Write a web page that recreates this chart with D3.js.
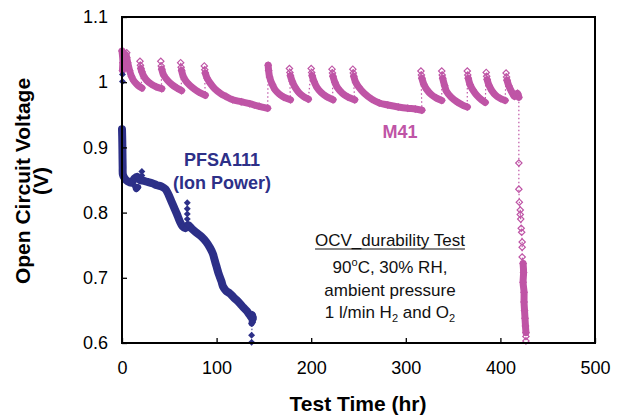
<!DOCTYPE html>
<html>
<head>
<meta charset="utf-8">
<script src="https://cdn.jsdelivr.net/npm/d3@7"></script>
<style>
  body { margin: 0; background: #fff; }
  text { font-family: "Liberation Sans", Arial, sans-serif; }
</style>
</head>
<body>
<svg id="chart" width="623" height="419"></svg>
<script>
// axis ticks
var xTicks = [0, 100, 200, 300, 400, 500];
var yTicks = [0.6, 0.7, 0.8, 0.9, 1.0, 1.1];

// M41: isolated markers at the top of each recovery cycle
var m41Tops = [
	[[1, 1.047], [5, 1.045], [5, 1.038]],
	[[19, 1.032], [19.5, 1.026]],
	[[41, 1.032], [41.5, 1.025]],
	[[62, 1.030], [62.5, 1.023]],
	[[87, 1.025], [87.5, 1.019]],
	[],
	[[177, 1.021], [177.5, 1.015]],
	[[200, 1.021], [200.5, 1.015]],
	[[222, 1.020], [222.5, 1.014]],
	[[244, 1.020], [244.5, 1.014]],
	[[316, 1.017], [316.5, 1.011]],
	[[338, 1.017], [338.5, 1.011]],
	[[365, 1.017], [365.5, 1.011]],
	[[385, 1.015], [385.5, 1.009]],
	[[406, 1.014], [406.5, 1.008]],
	[[419.5, 0.876], [419.5, 0.836], [420, 0.816], [421, 0.804], [421, 0.797], [421.5, 0.790],
	 [422, 0.776], [422.5, 0.770], [423, 0.755], [423, 0.747], [423, 0.732]]
];

// M41: dense runs of points (drawn as a thick band of markers)
var m41Runs = [
	[[0, 1.048], [1, 1.030], [0.5, 1.018], [2, 1.040], [4, 1.042], [6, 1.030], [8, 1.018], [10, 1.009], [13, 1.001], [17, 0.995], [21, 0.991]],
	[[20, 1.021], [21, 1.016], [23, 1.009], [26, 1.003], [31, 0.997], [36, 0.993], [42, 0.990]],
	[[42, 1.020], [44, 1.011], [48, 1.003], [53, 0.996], [58, 0.991], [63, 0.987]],
	[[63, 1.018], [65, 1.008], [69, 0.999], [75, 0.991], [81, 0.985], [88, 0.980]],
	[[88, 1.014], [90, 1.006], [93, 0.999], [98, 0.990], [104, 0.983], [110, 0.978], [117, 0.973], [126, 0.970], [135, 0.967], [145, 0.963], [154, 0.960]],
	[[154.5, 1.026], [155, 1.018], [156, 1.008], [159, 0.996], [162, 0.988], [166, 0.982], [171, 0.977], [178, 0.973]],
	[[178, 1.010], [180, 1.001], [183, 0.992], [187, 0.984], [192, 0.978], [197, 0.974]],
	[[201, 1.010], [203, 1.001], [206, 0.992], [210, 0.985], [216, 0.978], [223, 0.973]],
	[[223, 1.009], [225, 1.000], [228, 0.991], [233, 0.983], [239, 0.977], [246, 0.973]],
	[[245, 1.009], [247, 1.000], [250, 0.993], [256, 0.983], [264, 0.974], [272, 0.968], [281, 0.965], [292, 0.962], [302, 0.960], [310, 0.959], [317, 0.957]],
	[[317, 1.006], [319, 0.997], [322, 0.989], [327, 0.981], [332, 0.976], [338, 0.972]],
	[[339, 1.006], [341, 0.995], [343, 0.986], [348, 0.977], [354, 0.970], [360, 0.965], [365, 0.962]],
	[[366, 1.006], [368, 0.996], [371, 0.988], [375, 0.980], [380, 0.973], [384, 0.969]],
	[[386, 1.004], [388, 0.995], [391, 0.987], [395, 0.980], [400, 0.975], [405, 0.972]],
	[[407, 1.003], [409, 0.994], [412, 0.985], [415, 0.978], [418, 0.983], [419.5, 0.977]],
	[[424, 0.722], [424.5, 0.708], [424, 0.693], [425, 0.678], [425, 0.663], [425.5, 0.650], [426, 0.638], [426.5, 0.626], [427, 0.616]]
];
var m41Tail = [[427, 0.610], [427, 0.603]];

// PFSA111 (Ion Power): main run and isolated points
var pfsaRun = [
	[0, 0.928], [0.3, 0.910], [0.5, 0.890], [0.7, 0.870], [1, 0.858], [3, 0.852], [6, 0.848], [10, 0.846],
	[13, 0.852], [16, 0.855], [19, 0.850], [22, 0.849], [27, 0.847], [32, 0.845], [37, 0.842], [42, 0.840],
	[46, 0.836], [49, 0.828], [52, 0.818], [55, 0.808], [58, 0.798], [61, 0.787], [64, 0.779], [67, 0.776],
	[70, 0.781], [74, 0.775], [79, 0.769], [84, 0.763], [89, 0.755], [93, 0.746], [96, 0.737], [98, 0.727],
	[100, 0.717], [102, 0.707], [105, 0.695], [107, 0.686], [110, 0.680], [114, 0.676], [118, 0.670],
	[121, 0.666], [125, 0.660], [128, 0.655], [132, 0.649], [135, 0.643], [138, 0.637]
];
var pfsaBlobs = [
	[[14, 0.840], [15, 0.836], [16, 0.837], [17, 0.839]],
	[[137, 0.630], [138, 0.644], [139, 0.640], [138, 0.632]]
];
var pfsaSingles = [[0.5, 1.012], [0.5, 1.001], [21, 0.863], [21, 0.857], [69, 0.815], [69, 0.806], [69, 0.798], [69, 0.790], [137, 0.612], [137, 0.601]];

var m41Color = "#bf55a6";
var pfsaColor = "#2d3088";

var svg = d3.select("#chart");
var x = d3.scaleLinear().domain([0, 500]).range([122, 595]);
var y = d3.scaleLinear().domain([0.6, 1.1]).range([343, 17]);

var line = d3.line()
	.x(function(d) { return x(d[0]); })
	.y(function(d) { return y(d[1]); })
	.curve(d3.curveCatmullRom);
var lineLin = d3.line()
	.x(function(d) { return x(d[0]); })
	.y(function(d) { return y(d[1]); });

var plot = svg.append("g");

//M41 dotted trace through every point in order
var m41Trace = [];
for (var i = 0; i < m41Runs.length; i++)
	m41Trace = m41Trace.concat(m41Tops[i], m41Runs[i]);
m41Trace = m41Trace.concat(m41Tail);
plot.append("path").attr("d", lineLin(m41Trace))
	.attr("fill", "none").attr("stroke", m41Color).attr("stroke-width", 1.2).attr("stroke-dasharray", "1.5,2.5");

//M41 bands
plot.selectAll(".m41band").data(m41Runs).enter().append("path")
	.attr("d", function(d) { return line(d); })
	.attr("fill", "none").attr("stroke", m41Color).attr("stroke-width", 7)
	.attr("stroke-linecap", "round").attr("stroke-linejoin", "round");

var diamond = d3.symbol().type(d3.symbolSquare).size(20);
var m41Points = [];
m41Tops.forEach(function(s) { m41Points = m41Points.concat(s); });
m41Runs.forEach(function(s) { m41Points = m41Points.concat(s); });
m41Points = m41Points.concat(m41Tail);
plot.selectAll(".m41pt").data(m41Points).enter().append("path")
	.attr("d", diamond)
	.attr("transform", function(d) { return "translate(" + x(d[0]) + "," + y(d[1]) + ") rotate(45)"; })
	.attr("fill", "white").attr("fill-opacity", 0).attr("stroke", m41Color).attr("stroke-width", 1.2);

//PFSA111
plot.append("path").attr("d", lineLin(pfsaRun.concat([[137, 0.612], [137, 0.601]])))
	.attr("fill", "none").attr("stroke", pfsaColor).attr("stroke-width", 1).attr("stroke-dasharray", "1.5,2");
plot.append("path").attr("d", line(pfsaRun))
	.attr("fill", "none").attr("stroke", pfsaColor).attr("stroke-width", 8)
	.attr("stroke-linecap", "round").attr("stroke-linejoin", "round");
plot.selectAll(".pfsablob").data(pfsaBlobs).enter().append("path")
	.attr("d", function(d) { return line(d); })
	.attr("fill", "none").attr("stroke", pfsaColor).attr("stroke-width", 6)
	.attr("stroke-linecap", "round").attr("stroke-linejoin", "round");
var pfsaPoints = pfsaRun.concat(pfsaSingles);
pfsaBlobs.forEach(function(s) { pfsaPoints = pfsaPoints.concat(s); });
plot.selectAll(".pfsapt").data(pfsaPoints).enter().append("path")
	.attr("d", d3.symbol().type(d3.symbolSquare).size(24))
	.attr("transform", function(d) { return "translate(" + x(d[0]) + "," + y(d[1]) + ") rotate(45)"; })
	.attr("fill", pfsaColor);

//axes
var xAxis = d3.axisBottom(x).tickValues(xTicks).tickSizeInner(-5).tickSizeOuter(0).tickPadding(18)
	.tickFormat(d3.format("d"));
var yAxis = d3.axisLeft(y).tickValues(yTicks).tickSizeInner(-5).tickSizeOuter(0).tickPadding(14)
	.tickFormat(function(d) { return Math.abs(d - 1) < 1e-9 ? "1" : d3.format(".1f")(d); });

var gx = svg.append("g").attr("transform", "translate(0,343)").call(xAxis);
var gy = svg.append("g").attr("transform", "translate(122,0)").call(yAxis);
[gx, gy].forEach(function(g) {
	g.select(".domain").remove();
	g.selectAll(".tick line").attr("stroke", "#000").attr("stroke-width", 1.3);
	g.selectAll(".tick text").attr("fill", "#000").style("font-size", "18px")
		.style("font-family", "'Liberation Sans', Arial, sans-serif");
});

svg.append("rect").attr("x", 122).attr("y", 17).attr("width", 473).attr("height", 326)
	.attr("fill", "none").attr("stroke", "#000").attr("stroke-width", 2);

//axis titles
svg.append("text").attr("x", 358).attr("y", 411).attr("text-anchor", "middle")
	.style("font-size", "21px").style("font-weight", "bold").text("Test Time (hr)");
var yt = svg.append("g").attr("transform", "translate(0,181) rotate(-90)");
yt.append("text").attr("x", 0).attr("y", 30).attr("text-anchor", "middle")
	.style("font-size", "21px").style("font-weight", "bold").text("Open Circuit Voltage");
yt.append("text").attr("x", 0).attr("y", 48).attr("text-anchor", "middle")
	.style("font-size", "21px").style("font-weight", "bold").text("(V)");

//series labels
svg.append("text").attr("x", 222).attr("y", 166).attr("text-anchor", "middle").attr("fill", pfsaColor)
	.style("font-size", "18px").style("font-weight", "bold").text("PFSA111");
svg.append("text").attr("x", 222).attr("y", 189).attr("text-anchor", "middle").attr("fill", pfsaColor)
	.style("font-size", "18px").style("font-weight", "bold").text("(Ion Power)");
svg.append("text").attr("x", 400).attr("y", 138).attr("text-anchor", "middle").attr("fill", m41Color)
	.style("font-size", "18px").style("font-weight", "bold").text("M41");

//test conditions note
var note = svg.append("g").style("font-size", "17px").attr("fill", "#111");
var t1 = note.append("text").attr("x", 390).attr("y", 246).attr("text-anchor", "middle").text("OCV_durability Test");
var w1 = t1.node().getComputedTextLength();
note.append("line").attr("x1", 390 - w1 / 2).attr("x2", 390 + w1 / 2).attr("y1", 249).attr("y2", 249)
	.attr("stroke", "#111").attr("stroke-width", 1.2);
var t2 = note.append("text").attr("x", 390).attr("y", 273).attr("text-anchor", "middle");
t2.append("tspan").text("90");
t2.append("tspan").attr("dy", -7).style("font-size", "11px").text("o");
t2.append("tspan").attr("dy", 7).text("C, 30% RH,");
note.append("text").attr("x", 390).attr("y", 296).attr("text-anchor", "middle").text("ambient pressure");
var t4 = note.append("text").attr("x", 390).attr("y", 318).attr("text-anchor", "middle");
t4.append("tspan").text("1 l/min H");
t4.append("tspan").attr("dy", 4).style("font-size", "11px").text("2");
t4.append("tspan").attr("dy", -4).text(" and O");
t4.append("tspan").attr("dy", 4).style("font-size", "11px").text("2");
</script>
</body>
</html>
